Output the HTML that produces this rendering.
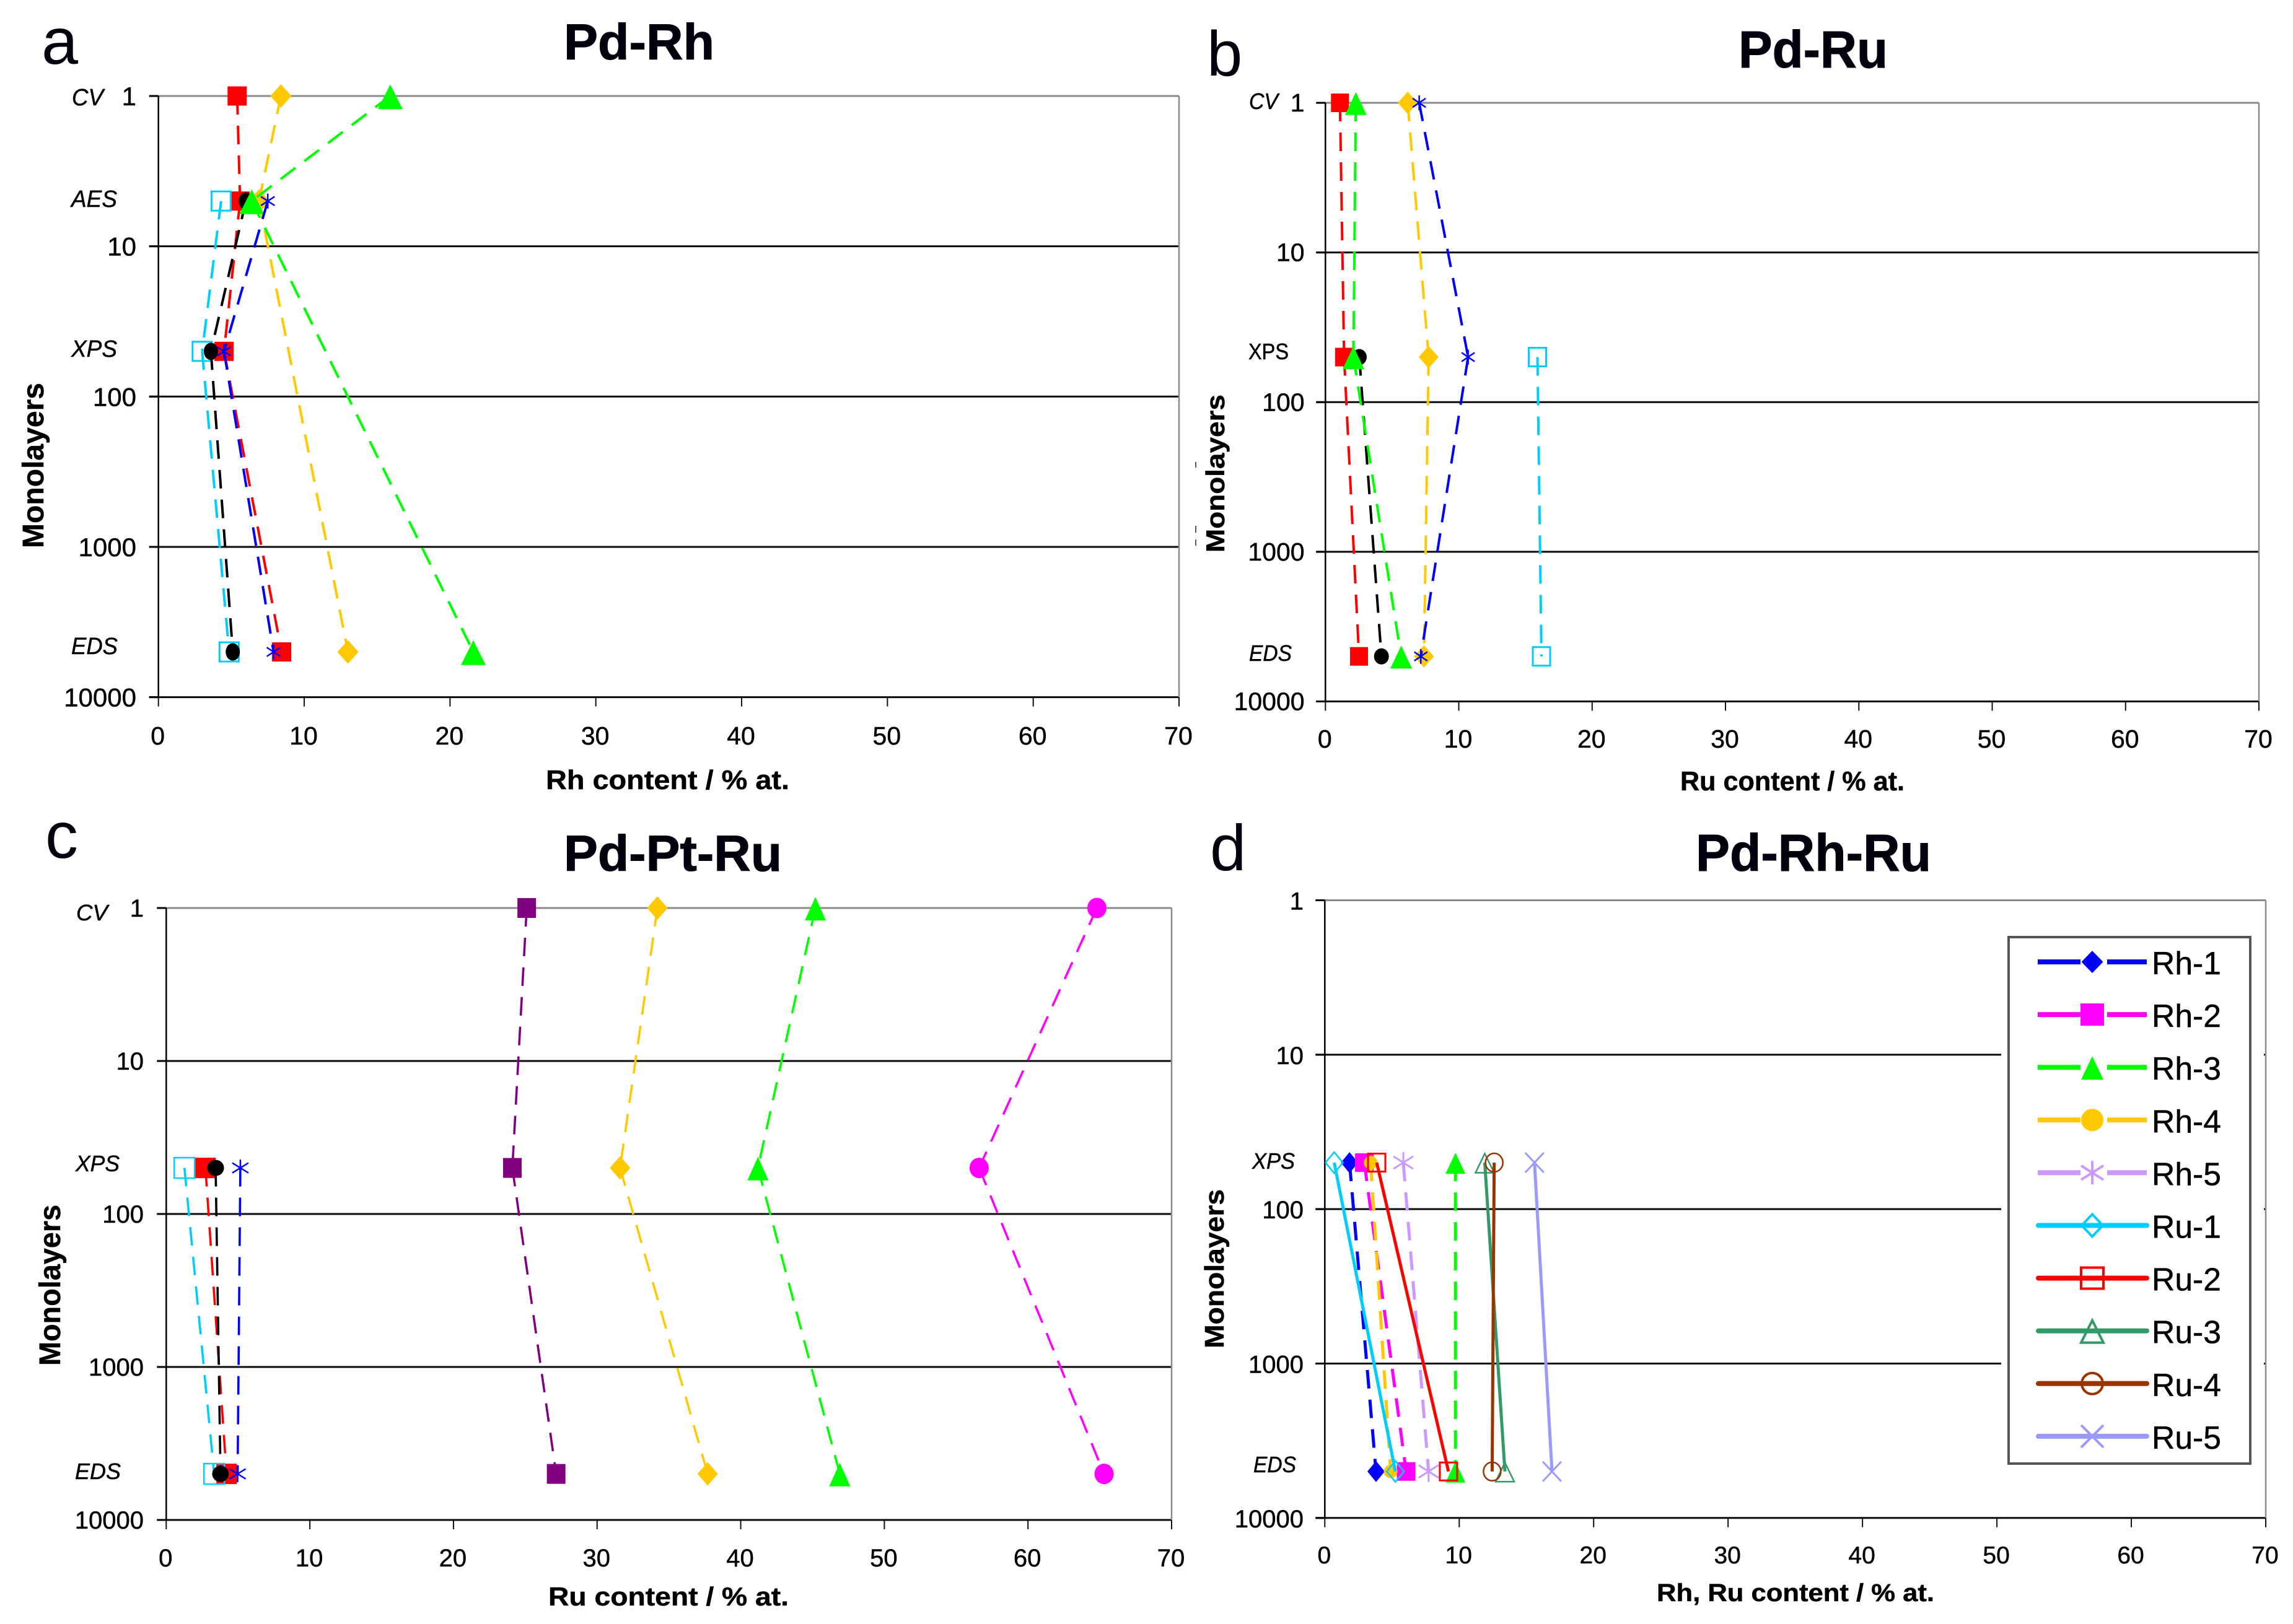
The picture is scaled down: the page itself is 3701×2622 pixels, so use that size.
<!DOCTYPE html>
<html lang="en">
<head>
<meta charset="utf-8">
<title>Composition vs monolayers: Pd-Rh, Pd-Ru, Pd-Pt-Ru, Pd-Rh-Ru</title>
<style>
html,body{margin:0;padding:0;background:#fff;}
svg{display:block;}
text{font-family:"Liberation Sans",Arial,sans-serif;fill:#000;stroke:#000;stroke-width:0.5;}
.letter{font-weight:400;fill:#02020e;stroke:none;}
.title{font-weight:700;fill:#02020e;stroke:#02020e;stroke-width:1;}
.axt{font-weight:700;}
.meth{font-style:italic;}
</style>
</head>
<body>
<svg id="fig" xmlns="http://www.w3.org/2000/svg" width="3701" height="2622" viewBox="0 0 3701 2622">
<rect x="0" y="0" width="3701" height="2622" fill="#fff"/>

<text class="letter" x="67" y="103" font-size="106">a</text>
<text class="letter" x="1948" y="122" font-size="103">b</text>
<text class="letter" x="73" y="1385" font-size="106">c</text>
<text class="letter" x="1953" y="1405" font-size="105">d</text>

<text class="title" x="910" y="96" font-size="82" textLength="243" lengthAdjust="spacingAndGlyphs">Pd-Rh</text>
<text class="title" x="2806" y="109" font-size="84" textLength="241" lengthAdjust="spacingAndGlyphs">Pd-Ru</text>
<text class="title" x="910" y="1406" font-size="82" textLength="352" lengthAdjust="spacingAndGlyphs">Pd-Pt-Ru</text>
<text class="title" x="2737" y="1406" font-size="84" textLength="380" lengthAdjust="spacingAndGlyphs">Pd-Rh-Ru</text>

<text class="axt" x="881" y="1274" font-size="44" textLength="393" lengthAdjust="spacingAndGlyphs">Rh content / % at.</text>
<text class="axt" x="2712" y="1276" font-size="44" textLength="362" lengthAdjust="spacingAndGlyphs">Ru content / % at.</text>
<text class="axt" x="885" y="2592" font-size="42" textLength="388" lengthAdjust="spacingAndGlyphs">Ru content / % at.</text>
<text class="axt" x="2674" y="2585" font-size="40" textLength="448" lengthAdjust="spacingAndGlyphs">Rh, Ru content / % at.</text>

<text class="axt" transform="translate(70,885) rotate(-90)" font-size="48" textLength="267" lengthAdjust="spacingAndGlyphs">Monolayers</text>
<text class="axt" transform="translate(1976,892) rotate(-90)" font-size="42" textLength="255" lengthAdjust="spacingAndGlyphs">Monolayers</text>
<text class="axt" transform="translate(97,2205) rotate(-90)" font-size="48" textLength="260" lengthAdjust="spacingAndGlyphs">Monolayers</text>
<text class="axt" transform="translate(1975,2177) rotate(-90)" font-size="44" textLength="257" lengthAdjust="spacingAndGlyphs">Monolayers</text>

<text class="meth" x="116" y="170" font-size="38" textLength="51" lengthAdjust="spacingAndGlyphs">CV</text>
<text class="meth" x="115" y="334" font-size="38" textLength="74" lengthAdjust="spacingAndGlyphs">AES</text>
<text class="meth" x="115" y="576" font-size="38" textLength="74" lengthAdjust="spacingAndGlyphs">XPS</text>
<text class="meth" x="115" y="1056" font-size="38" textLength="75" lengthAdjust="spacingAndGlyphs">EDS</text>

<text class="meth" x="2016" y="176" font-size="36" textLength="47" lengthAdjust="spacingAndGlyphs">CV</text>
<text x="2015" y="580" font-size="36" textLength="65" lengthAdjust="spacingAndGlyphs">XPS</text>
<text class="meth" x="2016" y="1067" font-size="36" textLength="69" lengthAdjust="spacingAndGlyphs">EDS</text>

<text class="meth" x="123" y="1486" font-size="36" textLength="51" lengthAdjust="spacingAndGlyphs">CV</text>
<text class="meth" x="122" y="1891" font-size="36" textLength="71" lengthAdjust="spacingAndGlyphs">XPS</text>
<text class="meth" x="121" y="2388" font-size="36" textLength="74" lengthAdjust="spacingAndGlyphs">EDS</text>

<text class="meth" x="2021" y="1887" font-size="36" textLength="69" lengthAdjust="spacingAndGlyphs">XPS</text>
<text class="meth" x="2023" y="2377" font-size="36" textLength="69" lengthAdjust="spacingAndGlyphs">EDS</text>

<path d="M1930 746V755M1930 849V860M1930 871V881" stroke="#222" stroke-width="1.5" fill="none"/>
</svg>

<script>
// ---------- shared axis ticks ----------
const xTickValues = [0, 10, 20, 30, 40, 50, 60, 70];
const yTickValues = [1, 10, 100, 1000, 10000];

// ---------- panel a : Pd-Rh ----------
const aLayers = [1, 5, 50, 5000];
const aRed    = [5.4, 5.6, 4.5, 8.45];
const aOrange = [8.4, 6.9, null, 13.0];
const aCyan   = [null, 4.3, 3.0, 4.85];
const aBlack  = [null, 6.0, 3.6, 5.1];
const aGreen  = [15.9, 6.4, null, 21.6];
const aBlue   = [null, 7.5, 4.5, 7.9];

// ---------- panel b : Pd-Ru ----------
const bLayers = [1, 50, 5000];
const bRed    = [1.09, 1.4, 2.52];
const bOrange = [6.17, 7.74, 7.39];
const bCyan   = [null, 15.9, 16.2];
const bBlack  = [null, 2.54, 4.2];
const bGreen  = [2.28, 2.1, 5.68];
const bBlue   = [7.03, 10.7, 7.15];

// ---------- panel c : Pd-Pt-Ru ----------
const cLayers  = [1, 50, 5000];
const cRed     = [null, 2.73, 4.2];
const cCyan    = [null, 1.27, 3.34];
const cBlack   = [null, 3.44, 3.78];
const cBlue    = [null, 5.16, 4.97];
const cPurple  = [25.1, 24.1, 27.15];
const cOrange  = [34.2, 31.6, 37.7];
const cGreen   = [45.2, 41.2, 46.9];
const cMagenta = [64.8, 56.6, 65.3];

// ---------- panel d : Pd-Rh-Ru ----------
const dLayers = [50, 5000];
const dRh1 = [1.84, 3.81];
const dRh2 = [2.94, 6.05];
const dRh3 = [9.72, 9.72];
const dRh4 = [3.41, 4.9];
const dRh5 = [5.84, 7.72];
const dRu1 = [0.7, 5.25];
const dRu2 = [3.86, 9.2];
const dRu3 = [11.9, 13.4];
const dRu4 = [12.6, 12.45];
const dRu5 = [15.6, 16.9];

const legendLabels = ['Rh-1', 'Rh-2', 'Rh-3', 'Rh-4', 'Rh-5', 'Ru-1', 'Ru-2', 'Ru-3', 'Ru-4', 'Ru-5'];

// ---------- styling ----------
const C = {red:'#ff0000', orange:'#ffc800', cyan:'#00ccff', black:'#000000', green:'#00ff00', blue:'#0000ff',
           purple:'#800080', magenta:'#ff00ff', lilac:'#cc99ff', sea:'#339966', brown:'#993300', peri:'#9999ff'};

const panels = [
 {id:'a', x0:255.7, x1:1903, y0:155, y1:1125.6, layers:aLayers, lw:4,
  yFont:42, yRight:220, yOff:15, xFont:41, xBase:1202,
  series:[
   {n:'red', v:aRed, c:C.red, m:'square', w:31, h:31},
   {n:'orange', v:aOrange, c:C.orange, m:'diamond', w:34, h:38},
   {n:'cyan', v:aCyan, c:C.cyan, m:'osquare', w:31, h:31, sw:3},
   {n:'black', v:aBlack, c:C.black, m:'circle', w:23, h:28},
   {n:'green', v:aGreen, c:C.green, m:'triangle', w:40, h:40},
   {n:'blue', v:aBlue, c:C.blue, m:'star', w:22, h:24, sw:2.5}
  ]},
 {id:'b', x0:2139.3, x1:3646, y0:166, y1:1132.5, layers:bLayers, lw:4,
  yFont:41, yRight:2105.6, yOff:14, xFont:41, xBase:1207,
  series:[
   {n:'red', v:bRed, c:C.red, m:'square', w:29, h:30},
   {n:'orange', v:bOrange, c:C.orange, m:'diamond', w:32, h:36},
   {n:'cyan', v:bCyan, c:C.cyan, m:'osquare', w:28, h:30, sw:3},
   {n:'black', v:bBlack, c:C.black, m:'circle', w:24, h:26},
   {n:'green', v:bGreen, c:C.green, m:'triangle', w:35, h:37},
   {n:'blue', v:bBlue, c:C.blue, m:'star', w:21, h:24, sw:2.5}
  ]},
 {id:'c', x0:268.3, x1:1891, y0:1466, y1:2454, layers:cLayers, lw:3.6,
  yFont:40, yRight:232, yOff:14, xFont:40, xBase:2529,
  series:[
   {n:'red', v:cRed, c:C.red, m:'square', w:33, h:33},
   {n:'cyan', v:cCyan, c:C.cyan, m:'osquare', w:33, h:33, sw:2.5},
   {n:'black', v:cBlack, c:C.black, m:'circle', w:27, h:26},
   {n:'blue', v:cBlue, c:C.blue, m:'star', w:26, h:27, sw:2.5},
   {n:'purple', v:cPurple, c:C.purple, m:'square', w:30, h:32},
   {n:'orange', v:cOrange, c:C.orange, m:'diamond', w:33, h:38},
   {n:'green', v:cGreen, c:C.green, m:'triangle', w:34, h:38},
   {n:'magenta', v:cMagenta, c:C.magenta, m:'circle', w:31, h:33}
  ]},
 {id:'d', x0:2138.3, x1:3657, y0:1453.5, y1:2450.8, layers:dLayers, lw:5,
  yFont:40, yRight:2104, yOff:15, xFont:39, xBase:2524,
  series:[
   {n:'rh-1', v:dRh1, c:C.blue, m:'diamond', w:28, h:34},
   {n:'rh-2', v:dRh2, c:C.magenta, m:'square', w:30, h:30},
   {n:'rh-3', v:dRh3, c:C.green, m:'triangle', w:32, h:34},
   {n:'rh-4', v:dRh4, c:C.orange, m:'circle', w:22, h:22},
   {n:'rh-5', v:dRh5, c:C.lilac, m:'star', w:32, h:34, sw:3},
   {n:'ru-1', v:dRu1, c:C.cyan, m:'odiamond', w:28, h:34, sw:2.5, solid:true},
   {n:'ru-2', v:dRu2, c:C.red, m:'osquare', w:28, h:29, sw:3, solid:true},
   {n:'ru-3', v:dRu3, c:C.sea, m:'otriangle', w:30, h:31, sw:2.5, solid:true},
   {n:'ru-4', v:dRu4, c:C.brown, m:'ocircle', w:28, h:30, sw:2.5, solid:true},
   {n:'ru-5', v:dRu5, c:C.peri, m:'cross', w:30, h:32, sw:3, solid:true}
  ]}
];

const legendStyles = [
 {c:C.blue, m:'diamond', w:35, h:36},
 {c:C.magenta, m:'square', w:38, h:36},
 {c:C.green, m:'triangle', w:36, h:38},
 {c:C.orange, m:'circle', w:36, h:36},
 {c:C.lilac, m:'star', w:36, h:38, sw:4},
 {c:C.cyan, m:'odiamond', w:34, h:36, sw:4, solid:true},
 {c:C.red, m:'osquare', w:36, h:34, sw:4, solid:true},
 {c:C.sea, m:'otriangle', w:36, h:36, sw:4, solid:true},
 {c:C.brown, m:'ocircle', w:34, h:34, sw:4, solid:true},
 {c:C.peri, m:'cross', w:36, h:36, sw:4, solid:true}
];

// ---------- helpers ----------
const NS = 'http://www.w3.org/2000/svg';
const fig = document.getElementById('fig');

function mk(parent, tag, name, attrs) {
  const el = document.createElementNS(NS, tag);
  for (const k in attrs) el.setAttribute(k, attrs[k]);
  
  
  parent.appendChild(el);
  return el;
}

function pts(a) { return a.map(p => p[0].toFixed(1) + ',' + p[1].toFixed(1)).join(' '); }

function drawMarker(g, name, m, cx, cy, w, h, col, sw) {
  const s = sw || 2;
  const hw = w / 2, hh = h / 2;
  if (m === 'square' || m === 'osquare') {
    mk(g, 'rect', name, {x:cx-hw, y:cy-hh, width:w, height:h,
      fill: m === 'square' ? col : 'none', stroke: m === 'square' ? 'none' : col, 'stroke-width': s});
  } else if (m === 'diamond' || m === 'odiamond') {
    mk(g, 'polygon', name, {points:pts([[cx,cy-hh],[cx+hw,cy],[cx,cy+hh],[cx-hw,cy]]),
      fill: m === 'diamond' ? col : 'none', stroke: m === 'diamond' ? 'none' : col, 'stroke-width': s});
  } else if (m === 'triangle' || m === 'otriangle') {
    mk(g, 'polygon', name, {points:pts([[cx,cy-h*0.47],[cx+hw,cy+h*0.53],[cx-hw,cy+h*0.53]]),
      fill: m === 'triangle' ? col : 'none', stroke: m === 'triangle' ? 'none' : col, 'stroke-width': s});
  } else if (m === 'circle' || m === 'ocircle') {
    mk(g, 'ellipse', name, {cx:cx, cy:cy, rx:hw, ry:hh,
      fill: m === 'circle' ? col : 'none', stroke: m === 'circle' ? 'none' : col, 'stroke-width': s});
  } else if (m === 'star') {
    const d = 'M'+cx+' '+(cy-hh)+'V'+(cy+hh)+'M'+(cx-hw)+' '+(cy-hh*0.6)+'L'+(cx+hw)+' '+(cy+hh*0.6)+
              'M'+(cx-hw)+' '+(cy+hh*0.6)+'L'+(cx+hw)+' '+(cy-hh*0.6);
    mk(g, 'path', name, {d:d, fill:'none', stroke:col, 'stroke-width':s});
  } else if (m === 'cross') {
    const d = 'M'+(cx-hw)+' '+(cy-hh)+'L'+(cx+hw)+' '+(cy+hh)+'M'+(cx-hw)+' '+(cy+hh)+'L'+(cx+hw)+' '+(cy-hh);
    mk(g, 'path', name, {d:d, fill:'none', stroke:col, 'stroke-width':s});
  }
}

function drawPanel(p) {
  const xs = v => p.x0 + v * (p.x1 - p.x0) / 70;
  const ys = v => p.y0 + Math.log10(v) * (p.y1 - p.y0) / 4;
  const prefix = 'panel-' + p.id + '-';

  const axes = mk(fig, 'g', prefix + 'axes', {});

  yTickValues.forEach(t => {
    const y = ys(t);
    const top = t === 1;
    mk(axes, 'line', prefix + 'gridline-' + t, {x1:p.x0-15, x2:p.x1, y1:y, y2:y,
      stroke: top ? '#8a8a8a' : '#0a0a0a', 'stroke-width': 3});
    mk(axes, 'line', prefix + 'y-tick-' + t, {x1:p.x0-15, x2:p.x0, y1:y, y2:y, stroke:'#000', 'stroke-width':3});
    const lbl = mk(axes, 'text', prefix + 'y-tick-label-' + t, {x:p.yRight, y:y+p.yOff, 'font-size':p.yFont, 'text-anchor':'end'});
    lbl.textContent = String(t);
  });
  mk(axes, 'line', prefix + 'right-edge', {x1:p.x1, x2:p.x1, y1:p.y0, y2:p.y1, stroke:'#8a8a8a', 'stroke-width':2.5});
  mk(axes, 'line', prefix + 'y-axis', {x1:p.x0, x2:p.x0, y1:p.y0, y2:p.y1, stroke:'#000', 'stroke-width':2.5});

  xTickValues.forEach(t => {
    const x = xs(t);
    mk(axes, 'line', prefix + 'x-tick-' + t, {x1:x, x2:x, y1:p.y1, y2:p.y1+15, stroke:'#111', 'stroke-width':2});
    const lbl = mk(axes, 'text', prefix + 'x-tick-label-' + t, {x:x-1, y:p.xBase, 'font-size':p.xFont, 'text-anchor':'middle'});
    lbl.textContent = String(t);
  });

  p.series.forEach(s => {
    const g = mk(fig, 'g', prefix + 'series-' + s.n, {});
    for (let i = 0; i < p.layers.length; i++) {
      if (s.v[i] === null) continue;
      let j = i + 1;
      while (j < p.layers.length && s.v[j] === null) j++;
      if (j >= p.layers.length) break;
      const attrs = {x1:xs(s.v[i]), y1:ys(p.layers[i]), x2:xs(s.v[j]), y2:ys(p.layers[j]),
                     stroke:s.c, 'stroke-width':p.lw};
      if (!s.solid) attrs['stroke-dasharray'] = '30 18';
      mk(g, 'line', prefix + s.n + '-line-segment', attrs);
    }
    s.v.forEach((v, i) => {
      if (v === null) return;
      drawMarker(g, prefix + s.n + '-point', s.m, xs(v), ys(p.layers[i]), s.w, s.h, s.c, s.sw);
    });
  });
}

panels.forEach(drawPanel);

// ---------- legend for panel d ----------
(function () {
  const g = mk(fig, 'g', 'legend', {});
  mk(g, 'rect', 'legend-background', {x:3230, y:1500, width:424, height:875, fill:'#fff'});
  mk(g, 'rect', 'legend-box', {x:3242, y:1513, width:390, height:850, fill:'#fff', stroke:'#555', 'stroke-width':4});
  legendLabels.forEach((label, i) => {
    const st = legendStyles[i];
    const y = 1553 + i * 85.1;
    const e = mk(g, 'g', 'legend-entry-' + label.toLowerCase(), {});
    if (st.solid) {
      mk(e, 'line', 'legend-line', {x1:3290, x2:3465, y1:y, y2:y, stroke:st.c, 'stroke-width':8, 'stroke-linecap':'round'});
    } else {
      mk(e, 'line', 'legend-line-left', {x1:3289, x2:3358, y1:y, y2:y, stroke:st.c, 'stroke-width':8});
      mk(e, 'line', 'legend-line-right', {x1:3401, x2:3465, y1:y, y2:y, stroke:st.c, 'stroke-width':8});
    }
    drawMarker(e, 'legend-marker', st.m, 3377, y, st.w, st.h, st.c, st.sw);
    const t = mk(e, 'text', 'legend-label', {x:3473, y:y+20, 'font-size':52, textLength:112, lengthAdjust:'spacingAndGlyphs'});
    t.textContent = label;
  });
})();
</script>
</body>
</html>
